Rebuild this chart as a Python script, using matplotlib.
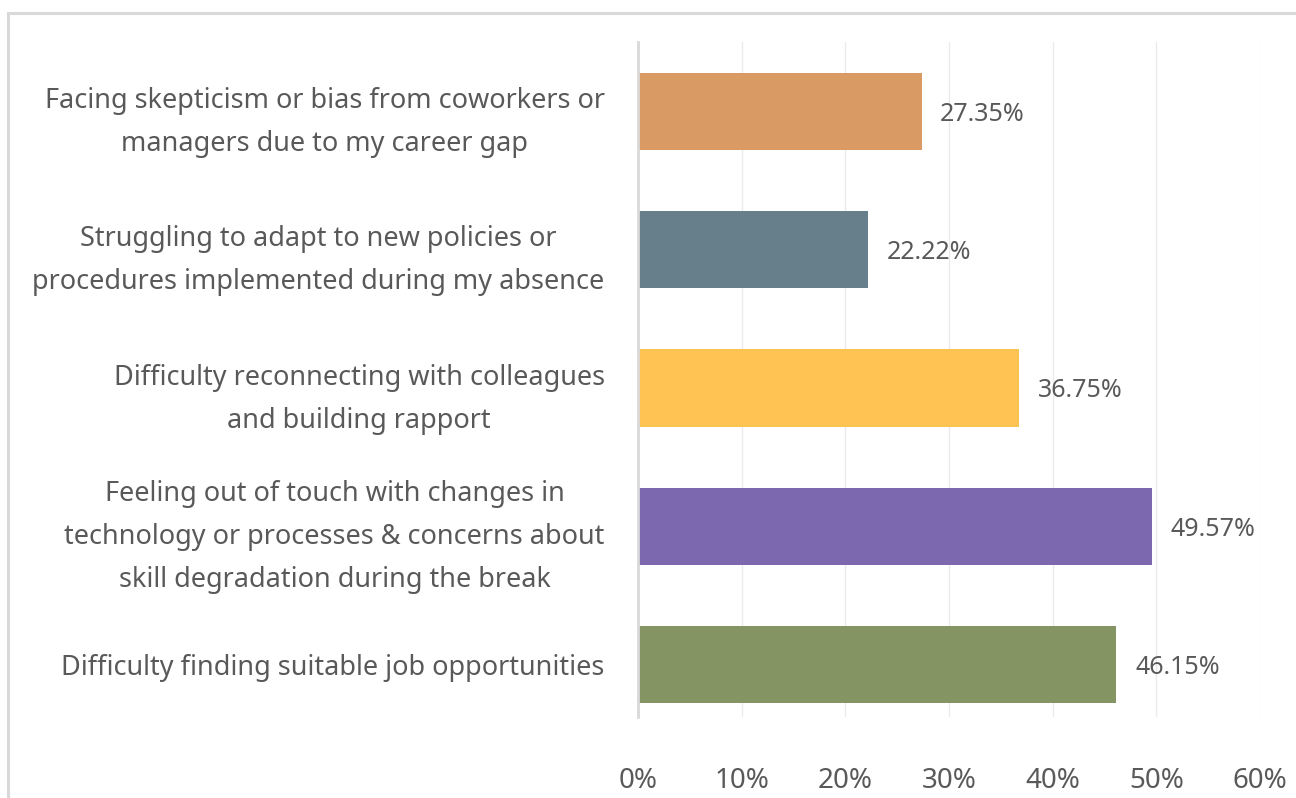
import matplotlib
matplotlib.use("Agg")
from matplotlib import pyplot as plt
from matplotlib.patches import Rectangle
from matplotlib.ticker import PercentFormatter
from matplotlib.transforms import ScaledTranslation

# veriler (alttan uste)
kategoriler = [
    "Difficulty finding suitable job opportunities",
    "Feeling out of touch with changes in\ntechnology or processes & concerns about\nskill degradation during the break",
    "Difficulty reconnecting with colleagues\nand building rapport",
    "Struggling to adapt to new policies or\nprocedures implemented during my absence",
    "Facing skepticism or bias from coworkers or\nmanagers due to my career gap",
]
degerler = [46.15, 49.57, 36.75, 22.22, 27.35]
renkler = ["#849563", "#7B68AE", "#FFC353", "#677F8A", "#DA9A64"]
x_ticks = [0, 10, 20, 30, 40, 50, 60]

plt.rcParams['font.family'] = ['Noto Sans', 'DejaVu Sans']
yazi_rengi = "#595959"

W, H = 1296, 798
fig = plt.figure(figsize=(W / 100, H / 100), dpi=100)
ax = fig.add_axes([638 / W, 1 - 717 / H, (1260 - 638) / W, (717 - 42) / H])

# dis cerceve
fig.patches.append(Rectangle((8 / W, -0.1), 1.2, 1 - 13 / H + 0.1, transform=fig.transFigure,
                             fill=False, edgecolor="#D9D9D9", linewidth=2.2))

y = list(range(len(kategoriler)))
ax.barh(y, degerler, height=0.56, color=renkler, zorder=3)

for yi, v in zip(y, degerler):
    ax.text(v + 1.8, yi - 0.02, f"{v:.2f}%", va="center", ha="left",
            fontsize=18, color=yazi_rengi)

ax.set_xlim(0, 60)
ax.set_ylim(-0.38, 4.503)
ax.set_xticks(x_ticks)
ax.xaxis.set_major_formatter(PercentFormatter(decimals=0))
ax.set_yticks(y)
ax.set_yticklabels(kategoriler, fontsize=19.5, color=yazi_rengi, linespacing=1.72)
kaydir = ScaledTranslation(0, 6 / 100, fig.dpi_scale_trans)
for lbl in ax.get_yticklabels():
    lbl.set_multialignment("center")
    lbl.set_transform(lbl.get_transform() + kaydir)
for lbl in ax.get_xticklabels():
    lbl.set_fontsize(20)
    lbl.set_color(yazi_rengi)

ax.tick_params(axis="y", length=0, pad=24)
ax.tick_params(axis="x", length=0, pad=36)
ax.grid(axis="x", color="#EBEBEB", linewidth=1, zorder=0)
for s in ["top", "right", "bottom"]:
    ax.spines[s].set_visible(False)
ax.spines["left"].set_color("#D9D9D9")
ax.spines["left"].set_linewidth(2)
ax.spines["left"].set_zorder(4)

plt.savefig("out.png", dpi=100)
